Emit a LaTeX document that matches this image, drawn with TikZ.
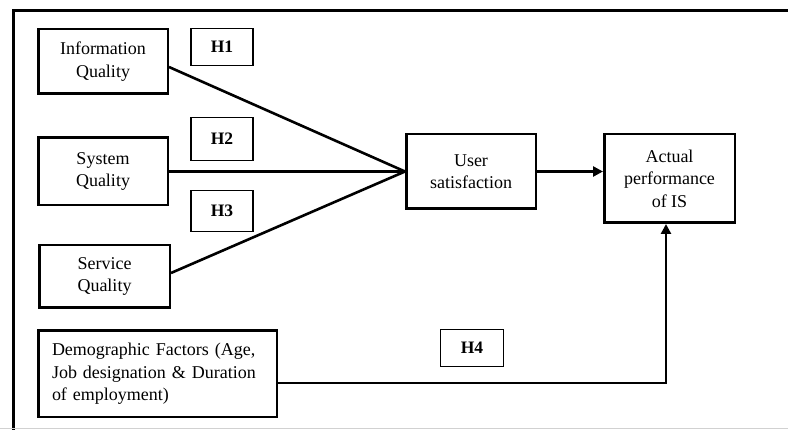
\documentclass[tikz,border=0pt]{standalone}
\usepackage{fontspec}
\setmainfont{Liberation Serif}
\usetikzlibrary{arrows.meta}
\begin{document}
\begin{tikzpicture}[x=1pt,y=-1pt,
  box/.style={draw, line width=2.5pt, align=center, inner sep=0pt,
    font=\fontsize{18}{22.5}\selectfont},
  hbox/.style={draw, line width=1.3pt, inner sep=0pt, minimum width=62pt,
    font=\fontsize{17.5}{20}\selectfont\bfseries},
  conn/.style={line width=2.6pt},
  arr/.style={line width=2.6pt, -{Triangle[length=10pt,width=10pt]}}]
\useasboundingbox (0,0) rectangle (788,430);
\clip (0,0) rectangle (788,430);
\fill[white] (0,0) rectangle (788,430);
% outer frame
\draw[line width=3pt] (13,445) -- (13,10.5) -- (800,10.5);
\draw[black!18, line width=1pt] (0,429) -- (788,429);
% nodes
\node[box, minimum width=129.5pt, minimum height=64.5pt] (info) at (103,61.5) {Information\\Quality};
\node[box, minimum width=129.5pt, minimum height=67.5pt] (sys) at (103,171.5) {System\\Quality};
\node[box, minimum width=130.5pt, minimum height=62.5pt] (serv) at (104.5,276.5) {Service\\Quality};
\node[box, minimum width=238.5pt, minimum height=86.5pt, align=left, text width=211pt] (demo) at (157.5,374) {Demographic Factors (Age,\\Job designation \& Duration\\of employment)};
\node[box, minimum width=129.5pt, minimum height=74.5pt] (us) at (471,171.5) {User\\satisfaction};
\node[box, minimum width=130.5pt, minimum height=88.5pt] (ap) at (669.5,178.5) {Actual\\performance\\of IS};
\node[hbox, minimum height=36.5pt] (h1) at (222,47) {H1};
\node[hbox, minimum height=42.5pt] (h2) at (222,139) {H2};
\node[hbox, minimum height=40.5pt] (h3) at (222,211) {H3};
\node[hbox, minimum width=63pt, minimum height=36.5pt] (h4) at (472,348) {H4};
% connectors
\draw[conn] ([yshift=-5.5pt]info.east) -- (us.west);
\draw[conn] (sys.east) -- (us.west);
\draw[conn] ([yshift=3.5pt]serv.east) -- (us.west);
\draw[arr] (us.east) -- (us.east -| ap.west);
\draw[arr] ([yshift=-9pt]demo.east) -| ([xshift=-3.5pt]ap.south);
\end{tikzpicture}
\end{document}
